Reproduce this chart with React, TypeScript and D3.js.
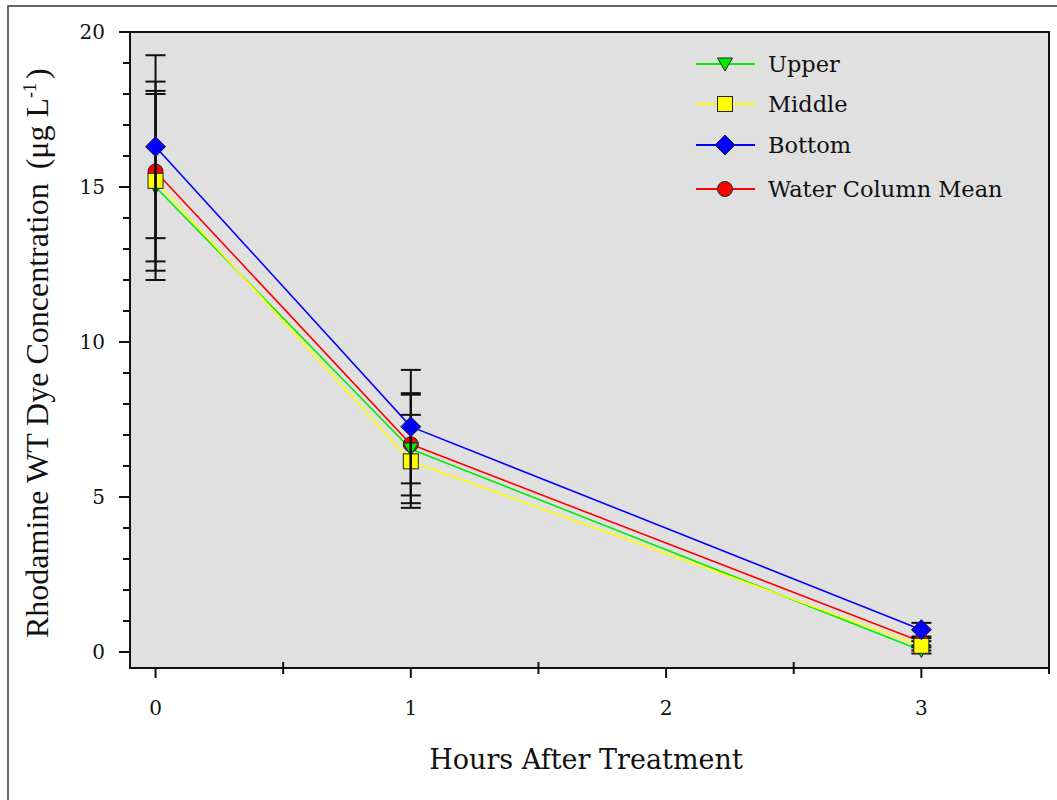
import React from 'react';
import * as d3 from 'd3';

// data
const hours = [0, 1, 3];
const upper = [15.0, 6.55, 0.05];
const upperErr = [3.0, 1.75, 0.1];
const middle = [15.2, 6.15, 0.2];
const middleErr = [2.9, 1.5, 0.15];
const bottom = [16.3, 7.27, 0.72];
const bottomErr = [2.95, 1.83, 0.22];
const colMean = [15.5, 6.7, 0.33];
const colMeanErr = [2.9, 1.65, 0.12];

const xMajor = [0, 1, 2, 3];
const xMinor = [0.5, 1.5, 2.5, 3.5];
const yMajor = [0, 5, 10, 15, 20];
const yMinor = d3.range(0, 21).filter(v => v % 5 !== 0);

const seriesNames = ['Upper', 'Middle', 'Bottom', 'Water Column Mean'];

const W = 1057;
const H = 800;
const plot = { left: 130, right: 1049, top: 32, bottom: 668 };

const serif = '"DejaVu Serif", serif';

const marker = (shape: string, fill: string, cx: number, cy: number, key: string) => {
  const stroke = '#222';
  if (shape === 'tri') {
    return <path key={key} d={`M${cx - 7.5},${cy - 6} L${cx + 7.5},${cy - 6} L${cx},${cy + 7} Z`} fill={fill} stroke={stroke} strokeWidth={1} />;
  }
  if (shape === 'square') {
    return <rect key={key} x={cx - 7.5} y={cy - 7.5} width={15} height={15} fill={fill} stroke={stroke} strokeWidth={1} />;
  }
  if (shape === 'diamond') {
    return <path key={key} d={`M${cx},${cy - 10} L${cx + 10},${cy} L${cx},${cy + 10} L${cx - 10},${cy} Z`} fill={fill} stroke={stroke} strokeWidth={1} />;
  }
  return <circle key={key} cx={cx} cy={cy} r={7.5} fill={fill} stroke={stroke} strokeWidth={1} />;
};

const App = () => {
  const x = d3.scaleLinear().domain([-0.1, 3.5]).range([plot.left, plot.right]);
  const y = d3.scaleLinear().domain([0, 20]).range([652, 32]);

  const series = [
    { name: seriesNames[0], vals: upper, err: upperErr, color: '#00ee00', shape: 'tri' },
    { name: seriesNames[1], vals: middle, err: middleErr, color: '#ffff00', shape: 'square' },
    { name: seriesNames[2], vals: bottom, err: bottomErr, color: '#0000ff', shape: 'diamond' },
    { name: seriesNames[3], vals: colMean, err: colMeanErr, color: '#ff0000', shape: 'circle' },
  ];

  const line = d3.line<number>()
    .x((_, i) => x(hours[i]))
    .y(d => y(d));

  // draw order of markers as seen in the figure
  const markerOrder = [3, 0, 1];

  const legendY = [64, 104, 145, 189];

  const errBar = (s: typeof series[0], v: number, i: number) => {
    const cx = x(hours[i]);
    const hi = y(v + s.err[i]);
    const lo = y(v - s.err[i]);
    return (
      <g key={'e' + s.name + i} stroke="#111" strokeWidth={2}>
        <line x1={cx} x2={cx} y1={hi} y2={lo} />
        <line x1={cx - 10} x2={cx + 10} y1={hi} y2={hi} />
        <line x1={cx - 10} x2={cx + 10} y1={lo} y2={lo} />
      </g>
    );
  };

  return (
    <svg width={W} height={H} style={{ position: 'absolute', left: 0, top: 0 }}>
      <rect x={0} y={0} width={W} height={H} fill="#fff" />
      {/* outer frame */}
      <path d={`M8,${H} L8,6 L${W},6`} fill="none" stroke="#333" strokeWidth={1.5} />

      {/* plot area */}
      <rect x={plot.left} y={plot.top} width={plot.right - plot.left} height={plot.bottom - plot.top}
        fill="#e0e0e0" stroke="#111" strokeWidth={2} />

      {/* y ticks */}
      {yMajor.map(v => (
        <g key={'ym' + v}>
          <line x1={plot.left - 11} x2={plot.left} y1={y(v)} y2={y(v)} stroke="#111" strokeWidth={2} />
          <text x={105} y={y(v)} dy="0.35em" textAnchor="end" fontFamily={serif} fontSize={20} fill="#111">{v}</text>
        </g>
      ))}
      {yMinor.map(v => (
        <line key={'yn' + v} x1={plot.left - 7} x2={plot.left} y1={y(v)} y2={y(v)} stroke="#111" strokeWidth={2} />
      ))}

      {/* x ticks */}
      {xMajor.map(v => (
        <g key={'xm' + v}>
          <line x1={x(v)} x2={x(v)} y1={plot.bottom} y2={plot.bottom + 10} stroke="#111" strokeWidth={2} />
          <text x={x(v)} y={708} dy="0.35em" textAnchor="middle" fontFamily={serif} fontSize={20} fill="#111">{v}</text>
        </g>
      ))}
      {xMinor.map(v => (
        <line key={'xn' + v} x1={x(v)} x2={x(v)} y1={plot.bottom - 6} y2={plot.bottom + 6} stroke="#111" strokeWidth={2} />
      ))}

      {/* series lines */}
      {series.map(s => (
        <path key={'l' + s.name} d={line(s.vals) || ''} fill="none" stroke={s.color} strokeWidth={1.6} />
      ))}

      {/* short error bars sit under the markers */}
      {series.map(s => s.vals.map((v, i) => (s.err[i] < 0.5 ? errBar(s, v, i) : null)))}

      {/* markers under the long error bars */}
      {markerOrder.map(si => series[si].vals.map((v, i) =>
        marker(series[si].shape, series[si].color, x(hours[i]), y(v), 'm' + si + '-' + i)))}

      {/* long error bars */}
      {series.map(s => s.vals.map((v, i) => (s.err[i] >= 0.5 ? errBar(s, v, i) : null)))}

      {/* bottom diamonds on top */}
      {series[2].vals.map((v, i) => marker('diamond', series[2].color, x(hours[i]), y(v), 'd' + i))}

      {/* legend */}
      {series.map((s, i) => (
        <g key={'lg' + s.name}>
          <line x1={696} x2={755} y1={legendY[i]} y2={legendY[i]} stroke={s.color} strokeWidth={2} />
          {marker(s.shape, s.color, 725, legendY[i], 'lm' + i)}
          <text x={768} y={legendY[i]} dy="0.35em" fontFamily={serif} fontSize={22.5} fill="#111">{s.name}</text>
        </g>
      ))}

      {/* axis titles */}
      <text x={586} y={760} dy="0.35em" textAnchor="middle" fontFamily={serif} fontSize={27} fill="#111">Hours After Treatment</text>
      <text transform={`translate(37,638) rotate(-90)`} textAnchor="start" dy="0.35em"
        fontFamily='"Liberation Serif", serif' fontSize={32} fill="#111">
        Rhodamine WT Dye Concentration<tspan dx={14}>(μg L</tspan><tspan dy={-12} fontSize={18}>-1</tspan><tspan dx={4} dy={12}>)</tspan>
      </text>
    </svg>
  );
};

export default App;
